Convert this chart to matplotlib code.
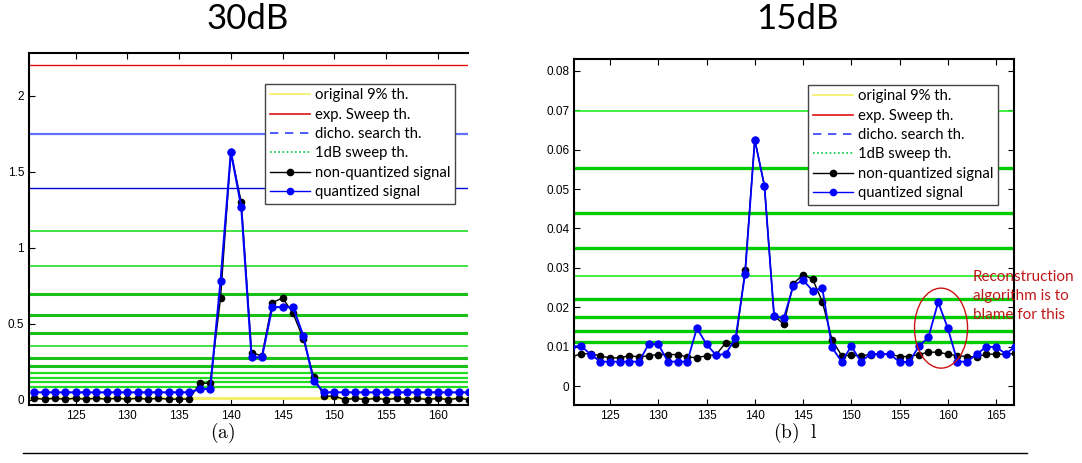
import numpy as np
import matplotlib.pyplot as plt
from matplotlib.lines import Line2D
from matplotlib.patches import Ellipse

plt.rcParams['mathtext.fontset'] = 'cm'

# ---- data (a) 30dB ----
x_a = list(range(121, 164))
orig_a = [0.012, 0.004, 0.012, 0.004, 0.012, 0.004, 0.012, 0.004, 0.012, 0.004,
          0.012, 0.004, 0.012, 0.004, 0.006, 0.006,
          0.11, 0.11, 0.67, 1.63, 1.30, 0.31, 0.29, 0.64, 0.67, 0.57, 0.40, 0.15,
          0.025, 0.025,
          0.003, 0.01, 0.003, 0.01, 0.003, 0.01, 0.003, 0.01, 0.003, 0.01, 0.003, 0.01, 0.003]
quant_a = [0.05] * 16 + [0.072, 0.072, 0.78, 1.63, 1.27, 0.28, 0.28, 0.61, 0.61, 0.61,
                        0.42, 0.125, 0.05] + [0.05] * 14
yellow_a = 0.015
red_a = 2.204
blue_a = [1.75, 1.393]
green_a = [1.107, 0.88, 0.697, 0.555, 0.443, 0.355, 0.278, 0.226, 0.18, 0.147, 0.118, 0.088]
green_a_lw = [1.2, 1.2, 2.2, 2.2, 2.2, 1.2, 2.2, 2.2, 1.6, 1.6, 1.6, 1.6]

# ---- data (b) 15dB ----
x_b = list(range(121, 168))
orig_b = [0.0074, 0.0082, 0.0082, 0.0077, 0.0071, 0.0072, 0.0077, 0.0074, 0.0077, 0.0080,
          0.0080, 0.0080, 0.0074, 0.0072, 0.0077, 0.0080, 0.0110, 0.0106, 0.0295, 0.0625,
          0.0508, 0.0178, 0.0157, 0.0260, 0.0283, 0.0271, 0.0214, 0.0118, 0.0077, 0.0078,
          0.0077, 0.0080, 0.0081, 0.0081, 0.0075, 0.0075, 0.0080, 0.0086, 0.0086, 0.0081,
          0.0077, 0.0075, 0.0074, 0.0081, 0.0081, 0.0081, 0.0083]
quant_b = [0.0100, 0.0102, 0.0080, 0.0062, 0.0062, 0.0062, 0.0062, 0.0062, 0.0106, 0.0106,
           0.0062, 0.0062, 0.0062, 0.0147, 0.0106, 0.0078, 0.0082, 0.0121, 0.0285, 0.0625,
           0.0508, 0.0178, 0.0172, 0.0255, 0.0269, 0.0242, 0.0248, 0.0098, 0.0062, 0.0101,
           0.0062, 0.0081, 0.0081, 0.0081, 0.0061, 0.0061, 0.0101, 0.0124, 0.0213, 0.0147,
           0.0062, 0.0062, 0.0081, 0.0100, 0.0099, 0.0082, 0.0100]
green_b = [0.0697, 0.0554, 0.0439, 0.0351, 0.0279, 0.0222, 0.0176, 0.0140, 0.0112]
green_b_lw = [1.2, 2.4, 2.4, 2.4, 1.2, 2.4, 2.4, 2.4, 2.4]

fig = plt.figure(figsize=(10.82, 4.63), dpi=100)
ax1 = fig.add_axes([0.0268, 0.1253, 0.4057, 0.7603])
ax2 = fig.add_axes([0.5308, 0.1253, 0.4067, 0.7473])


def style(ax, right=True):
    ax.tick_params(direction='in', length=4, width=0.8, labelsize=8.5, top=True, right=right)
    for lab in ax.get_xticklabels() + ax.get_yticklabels():
        lab.set_family('Liberation Sans')
    for s in ax.spines.values():
        s.set_linewidth(1.5)
    if not right:
        ax.spines['right'].set_visible(False)


# (a)
ax1.axhline(yellow_a, color='#f2f060', lw=2)
ax1.axhline(red_a, color='#e01010', lw=1)
ax1.axhline(blue_a[0], color='#6070ff', lw=1.6)
ax1.axhline(blue_a[1], color='#0000dd', lw=1)
for g, w in zip(green_a, green_a_lw):
    ax1.axhline(g, color='#18c018' if w > 2 else '#22dd22', lw=w)
ax1.plot(x_a, orig_a, color='black', lw=1, marker='o', ms=4.5, zorder=5)
ax1.plot(x_a, quant_a, color='#0000ff', lw=1.5, marker='o', ms=5, zorder=6)
ax1.set_xlim(120.5, 162.9)
ax1.set_ylim(-0.033, 2.28)
ax1.set_xticks([125, 130, 135, 140, 145, 150, 155, 160])
ax1.set_yticks([0, 0.5, 1, 1.5, 2])
ax1.set_yticklabels(['0', '0.5', '1', '1.5', '2'])
style(ax1, right=False)

# (b)
for g, w in zip(green_b, green_b_lw):
    ax2.axhline(g, color='#00cc00' if w > 2 else '#22ee22', lw=w)
ax2.plot(x_b, orig_b, color='black', lw=1, marker='o', ms=4.5, zorder=5)
ax2.plot(x_b, quant_b, color='#0000ff', lw=1.3, marker='o', ms=5, zorder=6)
ax2.add_patch(Ellipse((159.3, 0.0147), 5.5, 0.0203, fill=False, ec='#cc1111', lw=1, zorder=7))
ax2.set_xlim(121.3, 166.9)
ax2.set_ylim(-0.0048, 0.083)
ax2.set_xticks([125, 130, 135, 140, 145, 150, 155, 160, 165])
ax2.set_yticks([0, 0.01, 0.02, 0.03, 0.04, 0.05, 0.06, 0.07, 0.08])
ax2.set_yticklabels(['0', '0.01', '0.02', '0.03', '0.04', '0.05', '0.06', '0.07', '0.08'])
style(ax2)

fig.text(973 / 1082, 1 - 270 / 463, 'Reconstruction\nalgorithm is to\nblame for this',
         color='#c01818', fontsize=11, family='Lato', va='top', ha='left', linespacing=1.45)

handles = [Line2D([], [], color='#f2f060', lw=1.2),
           Line2D([], [], color='#e01010', lw=1.2),
           Line2D([], [], color='#3040ff', lw=1.2, ls=(0, (5, 4))),
           Line2D([], [], color='#00cc44', lw=1.2, ls=(0, (1, 1.5))),
           Line2D([], [], color='black', lw=1, marker='o', ms=4.5),
           Line2D([], [], color='#0000ff', lw=1, marker='o', ms=4.5)]
labels = ['original 9% th.', 'exp. Sweep th.', 'dicho. search th.', '1dB sweep th.',
          'non-quantized signal', 'quantized signal']
for ax, anchor in [(ax1, (0.970, 0.912)), (ax2, (0.963, 0.925))]:
    leg = ax.legend(handles, labels, loc='upper right', bbox_to_anchor=anchor,
                    borderaxespad=0,
                    prop={'family': 'Lato', 'size': 10.7}, handlelength=2.7,
                    handletextpad=0.35, labelspacing=0.36, borderpad=0.3,
                    fancybox=False, framealpha=1, edgecolor='#444444')
    leg.get_frame().set_linewidth(1)
    leg.set_zorder(10)

fig.text(248 / 1082, 1 - 19 / 463, '30dB', fontsize=25, family='Lato', ha='center', va='center')
fig.text(797 / 1082, 1 - 19 / 463, '15dB', fontsize=25, family='Lato', ha='center', va='center')
fig.text(223 / 1082, 1 - 433 / 463, r'$\mathrm{(a)}$', fontsize=14, ha='center', va='center')
fig.text(795 / 1082, 1 - 433 / 463, r'$\mathrm{(b)\ \ l}$', fontsize=14, ha='center', va='center')
fig.add_artist(Line2D([23 / 1082, 1027 / 1082], [1 - 453 / 463] * 2, color='black', lw=1))

fig.savefig('out.png', dpi=100)
